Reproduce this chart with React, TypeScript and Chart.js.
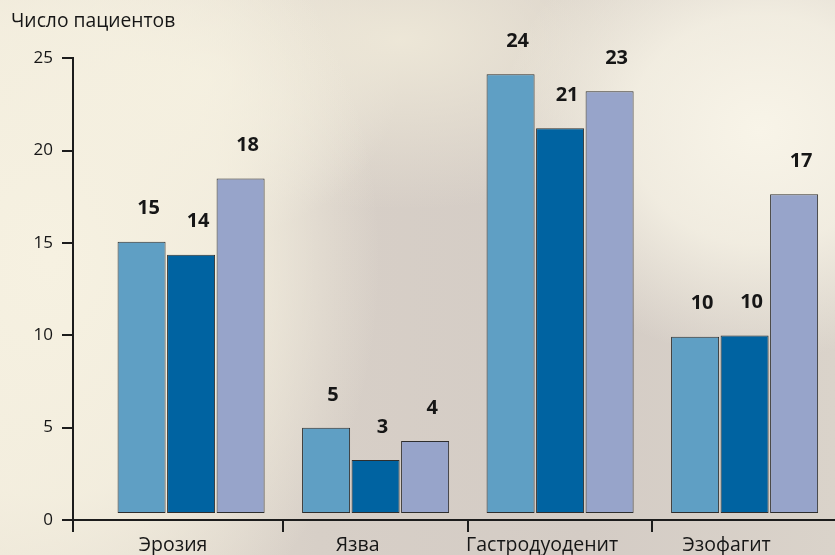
import React, { useEffect, useRef } from "react";
import { Chart, registerables } from "chart.js";

Chart.register(...registerables);

// ---- data ----
const CATEGORIES = ["Эрозия", "Язва", "Гастродуоденит", "Эзофагит"];
const SERIES_A = [15.06, 4.99, 24.13, 9.92];
const SERIES_B = [14.36, 3.25, 21.21, 9.99];
const SERIES_C = [18.49, 4.27, 23.21, 17.64];
const LABELS_A = ["15", "5", "24", "10"];
const LABELS_B = ["14", "3", "21", "10"];
const LABELS_C = ["18", "4", "23", "17"];
const BAR_BASE = 0.38;
const Y_TITLE = "Число пациентов";
const Y_MIN = 0;
const Y_MAX = 25;
const Y_STEP = 5;

const SERIES = [SERIES_A, SERIES_B, SERIES_C];
const SERIES_LABELS = [LABELS_A, LABELS_B, LABELS_C];
const COLORS = ["#5f9fc4", "#0063a1", "#97a4ca"];

const FONT = '"Open Sans", "Noto Sans", sans-serif';
const INK = "#161616";
const AXIS = "#1c1c1c";

const valueLabels = {
  id: "valueLabels",
  afterDatasetsDraw(chart: any) {
    const ctx = chart.ctx;
    ctx.save();
    ctx.font = `bold 20px ${FONT}`;
    ctx.fillStyle = INK;
    ctx.textAlign = "center";
    ctx.textBaseline = "middle";
    chart.data.datasets.forEach((_ds: any, di: number) => {
      const meta = chart.getDatasetMeta(di);
      meta.data.forEach((el: any, i: number) => {
        ctx.fillText(SERIES_LABELS[di][i], el.x + 7, el.y - 33);
      });
    });
    ctx.restore();
  },
};

const yAxisExtension = {
  id: "yAxisExtension",
  afterDraw(chart: any) {
    const { ctx, chartArea } = chart;
    const x = Math.round(chartArea.left + 1) - 1;
    ctx.save();
    ctx.strokeStyle = AXIS;
    ctx.lineWidth = 2;
    ctx.beginPath();
    ctx.moveTo(x, chartArea.bottom);
    ctx.lineTo(x, chartArea.bottom + 12);
    ctx.stroke();
    ctx.restore();
  },
};

export default function App() {
  const ref = useRef<HTMLCanvasElement | null>(null);

  useEffect(() => {
    document.body.style.margin = "0";
    if (!ref.current) return;
    const chart = new Chart(ref.current, {
      type: "bar",
      data: {
        datasets: SERIES.map((s, di) => ({
          label: `s${di}`,
          data: s.map((v, i) => ({ x: i, y: [BAR_BASE, v] })),
          backgroundColor: COLORS[di],
          borderColor: "#2e2e2e",
          borderWidth: 1,
          borderSkipped: false,
          categoryPercentage: 0.805,
          barPercentage: 0.97,
        })),
      } as any,
      options: {
        responsive: false,
        animation: false,
        devicePixelRatio: 1,
        layout: { padding: { left: 11, right: 0, top: 0, bottom: 0 } },
        plugins: {
          legend: { display: false },
          tooltip: { enabled: false },
          title: {
            display: true,
            text: Y_TITLE,
            align: "start",
            color: INK,
            font: { family: FONT, size: 19.3, weight: "normal" },
            padding: { top: 10, bottom: 25 },
          },
        },
        scales: {
          x: {
            type: "linear",
            offset: false,
            min: -0.64,
            max: 3.49,
            afterBuildTicks: (scale: any) => {
              scale.ticks = CATEGORIES.map((_c, i) => ({ value: i }));
            },
            afterFit: (scale: any) => {
              scale.height = 35;
            },
            ticks: {
              callback: (_v: any, i: number) => CATEGORIES[i],
              color: INK,
              font: { family: FONT, size: 19.5 },
              padding: 2,
              labelOffset: -18,
              maxRotation: 0,
              autoSkip: false,
            },
            grid: {
              offset: true,
              drawOnChartArea: false,
              drawTicks: true,
              tickLength: 12,
              lineWidth: 2,
              color: (ctx: any) =>
                ctx.index >= 1 && ctx.index <= 3 ? AXIS : "rgba(0,0,0,0)",
            },
            border: { display: true, color: AXIS, width: 2 },
          },
          y: {
            min: Y_MIN,
            max: Y_MAX,
            afterFit: (scale: any) => {
              scale.width = 62;
            },
            ticks: {
              stepSize: Y_STEP,
              color: INK,
              font: { family: FONT, size: 17 },
              padding: 9,
            },
            grid: {
              drawOnChartArea: false,
              drawTicks: true,
              tickLength: 11,
              lineWidth: 2,
              color: AXIS,
            },
            border: { display: true, color: AXIS, width: 2 },
          },
        },
      } as any,
      plugins: [valueLabels, yAxisExtension],
    });
    return () => chart.destroy();
  }, []);

  const bg = [
    "radial-gradient(ellipse 330px 430px at 50px 260px, rgba(246,241,225,1) 0%, rgba(245,240,224,0.85) 55%, rgba(245,240,224,0) 100%)",
    "radial-gradient(ellipse 260px 230px at 760px 130px, rgba(248,244,232,1) 0%, rgba(247,243,230,0.8) 50%, rgba(247,243,230,0) 100%)",
    "radial-gradient(ellipse 330px 170px at 400px 40px, rgba(238,232,216,0.95) 0%, rgba(238,232,216,0) 100%)",
    "radial-gradient(ellipse 200px 160px at 200px 80px, rgba(246,242,228,1) 0%, rgba(246,242,228,0) 100%)",
    "linear-gradient(to right, #e9e2d4 0%, #d7cfc7 38%, #d4ccc5 70%, #dad3ca 100%)",
  ].join(", ");

  return (
    <div style={{ width: 835, height: 555, background: bg, overflow: "hidden" }}>
      <canvas ref={ref} width={835} height={555} style={{ display: "block" }} />
    </div>
  );
}
